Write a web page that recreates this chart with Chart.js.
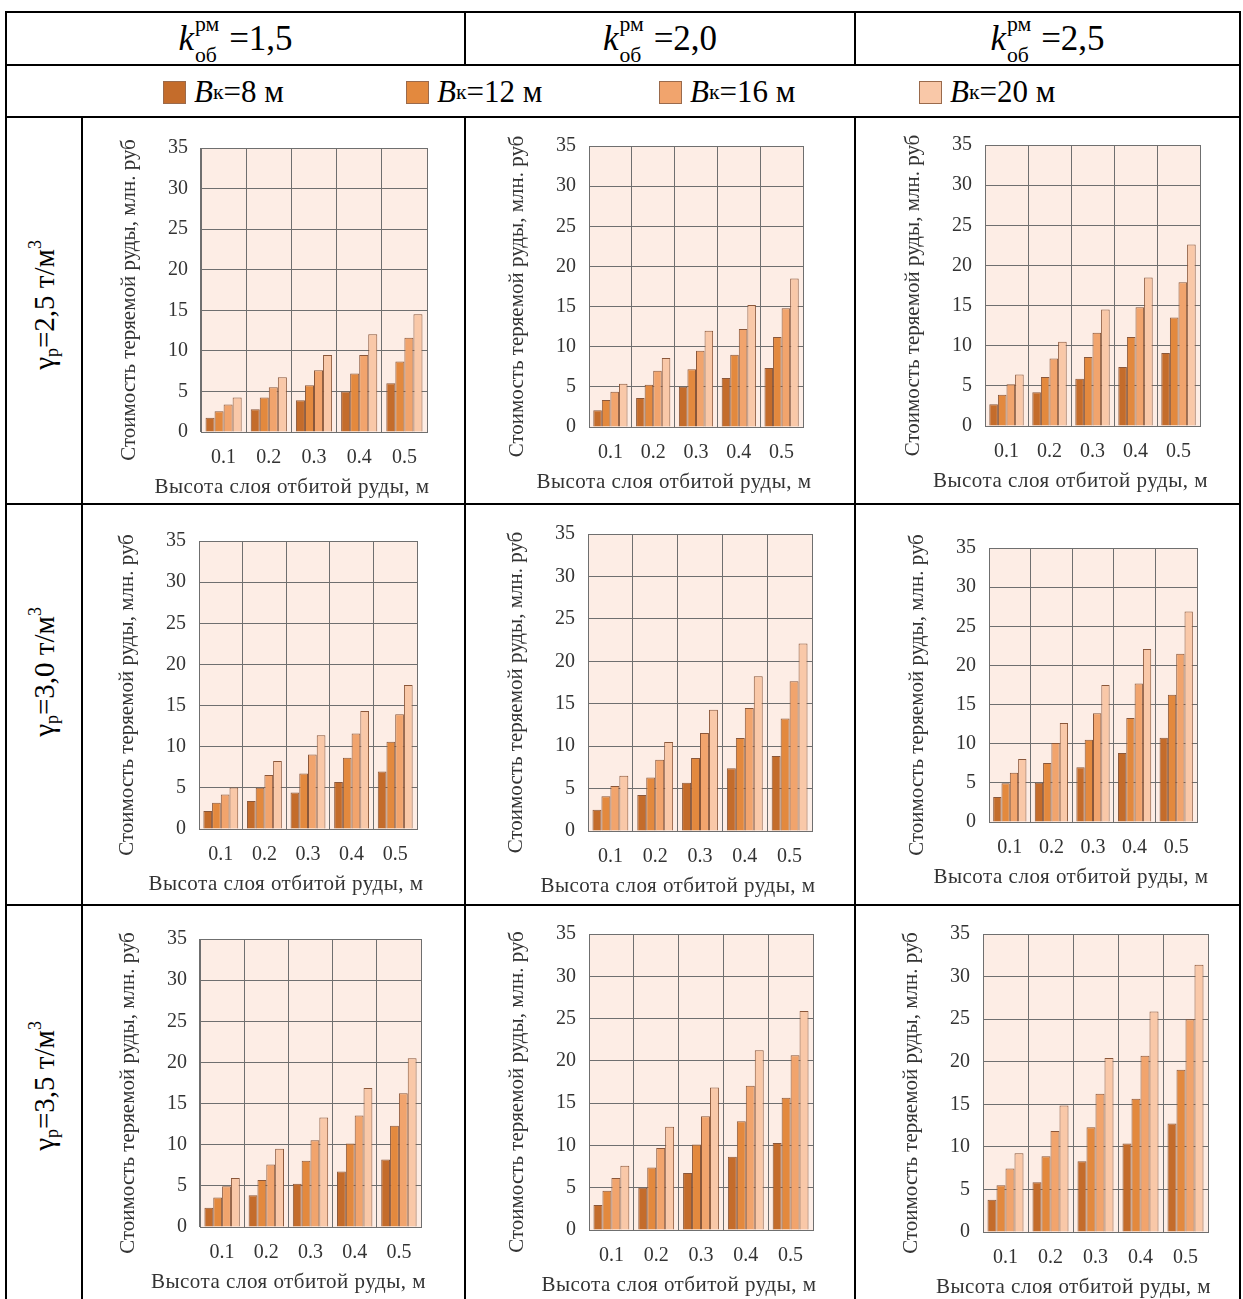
<!DOCTYPE html>
<html lang="ru">
<head>
<meta charset="utf-8">
<title>Стоимость теряемой руды</title>
<script src="https://cdn.jsdelivr.net/npm/chart.js@4.4.1/dist/chart.umd.min.js"></script>
<style>
  html, body { margin: 0; padding: 0; background: #fff; overflow: hidden; }
  body { width: 1243px; height: 1299px; position: relative; font-family: 'Liberation Serif', 'Times New Roman', serif; color: #000; }
  .line { position: absolute; background: #000; }
  .head { position: absolute; top: 12px; height: 53px; display: flex; align-items: center; justify-content: center; font-size: 35px; }
  .ss { display: inline-block; position: relative; width: 1.3em; height: 1em; margin: 0 6px 0 1px; font-size: 0.62em; }
  .ss .up { position: absolute; left: 0; top: -0.62em; line-height: 1; }
  .ss .dn { position: absolute; left: 0; top: 0.78em; line-height: 1; }
  .leg { position: absolute; top: 77px; height: 30px; display: flex; align-items: center; font-size: 31px; white-space: nowrap; }
  .leg .sw { width: 23px; height: 23px; box-sizing: border-box; border: 1px solid #9a6a4c; margin-right: 8px; }
  .leg sub { font-size: 0.7em; vertical-align: -0.25em; }
  .side { position: absolute; left: 44px; font-size: 29px; white-space: nowrap; transform: translate(-50%, -50%) rotate(-90deg); }
  .side sub { font-size: 0.62em; vertical-align: -0.25em; }
  .side sup { font-size: 0.62em; vertical-align: 0.7em; }
  canvas { position: absolute; }
</style>
</head>
<body>

<!-- table frame -->
<div class="line" style="left:5px;top:11px;width:1236px;height:2px"></div>
<div class="line" style="left:5px;top:64px;width:1236px;height:2px"></div>
<div class="line" style="left:5px;top:116px;width:1236px;height:2px"></div>
<div class="line" style="left:5px;top:503px;width:1236px;height:2px"></div>
<div class="line" style="left:5px;top:904px;width:1236px;height:2px"></div>
<div class="line" style="left:5px;top:11px;width:2px;height:1300px"></div>
<div class="line" style="left:1239px;top:11px;width:2px;height:1300px"></div>
<div class="line" style="left:464px;top:11px;width:2px;height:54px"></div>
<div class="line" style="left:854px;top:11px;width:2px;height:54px"></div>
<div class="line" style="left:464px;top:116px;width:2px;height:1200px"></div>
<div class="line" style="left:854px;top:116px;width:2px;height:1200px"></div>
<div class="line" style="left:81px;top:116px;width:2px;height:1200px"></div>

<div id="heads"></div>
<div id="legend"></div>
<div id="sides"></div>
<div id="charts"></div>

<script>
// column headers: k_об^рм
const kValues = ['1,5', '2,0', '2,5'];
// row headers: ore density γр, т/м³
const gammaValues = ['2,5', '3,0', '3,5'];
// chamber width Bк, м
const widths = ['8', '12', '16', '20'];
// broken ore layer height, м
const heights = ['0.1', '0.2', '0.3', '0.4', '0.5'];

// lost ore cost, млн. руб: one row per Bк, one value per layer height
const g25k15 = [
  [1.75, 2.8, 3.9, 5.0, 6.0],
  [2.55, 4.25, 5.75, 7.2, 8.7],
  [3.4, 5.5, 7.6, 9.5, 11.6],
  [4.25, 6.75, 9.5, 12.05, 14.5]
];
const g25k20 = [
  [2.1, 3.6, 5.0, 6.1, 7.35],
  [3.35, 5.25, 7.2, 9.0, 11.2],
  [4.4, 7.0, 9.5, 12.2, 14.8],
  [5.4, 8.6, 12.0, 15.2, 18.5]
];
const g25k25 = [
  [2.7, 4.2, 5.9, 7.35, 9.1],
  [3.9, 6.1, 8.6, 11.1, 13.5],
  [5.2, 8.4, 11.6, 14.8, 17.9],
  [6.4, 10.5, 14.5, 18.5, 22.6]
];
const g30k15 = [
  [2.2, 3.4, 4.45, 5.7, 7.0],
  [3.2, 5.0, 6.75, 8.65, 10.6],
  [4.2, 6.55, 9.05, 11.6, 13.95],
  [5.05, 8.25, 11.4, 14.35, 17.5]
];
const g30k20 = [
  [2.5, 4.25, 5.7, 7.4, 8.85],
  [4.1, 6.3, 8.6, 10.95, 13.25],
  [5.3, 8.4, 11.55, 14.5, 17.65],
  [6.5, 10.5, 14.3, 18.25, 22.1]
];
const g30k25 = [
  [3.2, 5.0, 7.0, 8.8, 10.75],
  [4.95, 7.55, 10.5, 13.3, 16.25],
  [6.3, 10.1, 13.9, 17.7, 21.5],
  [8.05, 12.65, 17.5, 22.1, 26.9]
];
const g35k15 = [
  [2.35, 3.85, 5.25, 6.75, 8.2],
  [3.6, 5.7, 8.05, 10.15, 12.3],
  [4.95, 7.6, 10.55, 13.55, 16.25],
  [5.95, 9.5, 13.3, 16.9, 20.5]
];
const g35k20 = [
  [2.95, 5.0, 6.75, 8.65, 10.3],
  [4.65, 7.4, 10.1, 12.85, 15.65],
  [6.15, 9.7, 13.45, 17.05, 20.65],
  [7.6, 12.2, 16.85, 21.25, 25.9]
];
const g35k25 = [
  [3.8, 5.85, 8.3, 10.4, 12.75],
  [5.5, 8.9, 12.3, 15.65, 19.05],
  [7.45, 11.85, 16.25, 20.7, 25.0],
  [9.25, 14.85, 20.45, 25.9, 31.4]
];

const panels = [g25k15, g25k20, g25k25, g30k15, g30k20, g30k25, g35k15, g35k20, g35k25];

// plot area of every panel: left, right, top, bottom (px on the page)
const plotBoxes = [
  [201, 427, 137, 432], [589, 803, 135, 427], [985, 1200, 134, 426],
  [199, 417, 530, 829], [588, 812, 523, 831], [989, 1197, 537, 822],
  [200, 421, 928, 1227], [589, 813, 923, 1230], [983, 1208, 923, 1232]
];

const barColors = ['#c46c2b', '#e3893e', '#f1a46d', '#f9c8a8'];
const serif = "'Liberation Serif', 'Times New Roman', serif";
const Y_AXIS_W = 90, X_AXIS_H = 71, PAD_T = 14, PAD_R = 14;

// headers
const headCells = [[6, 459], [465, 390], [855, 385]];
document.getElementById('heads').innerHTML = kValues.map((k, i) =>
  `<div class="head" style="left:${headCells[i][0]}px;width:${headCells[i][1]}px">` +
  `<i>k</i><span class="ss"><span class="up">рм</span><span class="dn">об</span></span>=${k}</div>`
).join('');

// legend row
const legendX = [163, 406, 659, 919];
document.getElementById('legend').innerHTML = widths.map((w, i) =>
  `<div class="leg" style="left:${legendX[i]}px"><span class="sw" style="background:${barColors[i]}"></span>` +
  `<i>B</i><sub>к</sub>=${w} м</div>`
).join('');

// row labels
const sideY = [305, 672, 1086];
document.getElementById('sides').innerHTML = gammaValues.map((g, i) =>
  `<div class="side" style="top:${sideY[i]}px">γ<sub>р</sub>=${g} т/м<sup>3</sup></div>`
).join('');

// pale fill behind the bars
const plotBg = {
  id: 'plotBg',
  beforeDraw(chart) {
    const { ctx, chartArea: a } = chart;
    ctx.save();
    ctx.fillStyle = '#fdede5';
    ctx.fillRect(a.left, a.top, a.width, a.height);
    ctx.restore();
  }
};

// axis titles sit a little off the plot centre, so they are drawn here
const axisTitles = {
  id: 'axisTitles',
  afterDraw(chart, args, opts) {
    const { ctx, chartArea: a } = chart;
    ctx.save();
    ctx.fillStyle = '#333';
    ctx.textAlign = 'center';
    ctx.textBaseline = 'middle';
    ctx.font = `21px ${serif}`;
    ctx.letterSpacing = '0.5px';
    ctx.fillText(opts.x, (a.left + a.right) / 2 - 22, a.bottom + 55);
    ctx.letterSpacing = '0px';
    ctx.translate(a.left - 72, (a.top + a.bottom) / 2 + 10);
    ctx.rotate(-Math.PI / 2);
    ctx.fillText(opts.y, 0, 0);
    ctx.restore();
  }
};

const holder = document.getElementById('charts');
panels.forEach((series, i) => {
  const [L, R, T, B] = plotBoxes[i];
  const canvas = document.createElement('canvas');
  canvas.width = R - L + Y_AXIS_W + PAD_R;
  canvas.height = B - T + PAD_T + X_AXIS_H;
  canvas.style.left = (L - Y_AXIS_W) + 'px';
  canvas.style.top = (T - PAD_T) + 'px';
  holder.appendChild(canvas);

  new Chart(canvas, {
    type: 'bar',
    data: {
      labels: heights,
      datasets: series.map((values, j) => ({
        label: 'Bк=' + widths[j] + ' м',
        data: values,
        backgroundColor: barColors[j],
        borderColor: '#8a573a',
        borderWidth: 1,
        barPercentage: 1.0,
        categoryPercentage: 0.8
      }))
    },
    options: {
      responsive: false,
      animation: false,
      devicePixelRatio: 1,
      layout: { padding: { left: 0, top: PAD_T, right: PAD_R, bottom: 0 } },
      plugins: {
        legend: { display: false },
        tooltip: { enabled: false },
        axisTitles: { x: 'Высота слоя отбитой руды, м', y: 'Стоимость теряемой руды, млн. руб' }
      },
      scales: {
        x: {
          grid: { color: '#6f6f6f', lineWidth: 1, drawTicks: false },
          border: { color: '#6f6f6f', width: 1 },
          ticks: { color: '#333', padding: 14, font: { family: serif, size: 20 } },
          afterFit: (s) => { s.height = X_AXIS_H; }
        },
        y: {
          min: 0,
          max: 35,
          grid: { color: '#6f6f6f', lineWidth: 1, drawTicks: false },
          border: { color: '#6f6f6f', width: 1 },
          ticks: { stepSize: 5, color: '#333', padding: 13, font: { family: serif, size: 20 } },
          afterFit: (s) => { s.width = Y_AXIS_W; }
        }
      }
    },
    plugins: [plotBg, axisTitles]
  });
});
</script>
</body>
</html>
